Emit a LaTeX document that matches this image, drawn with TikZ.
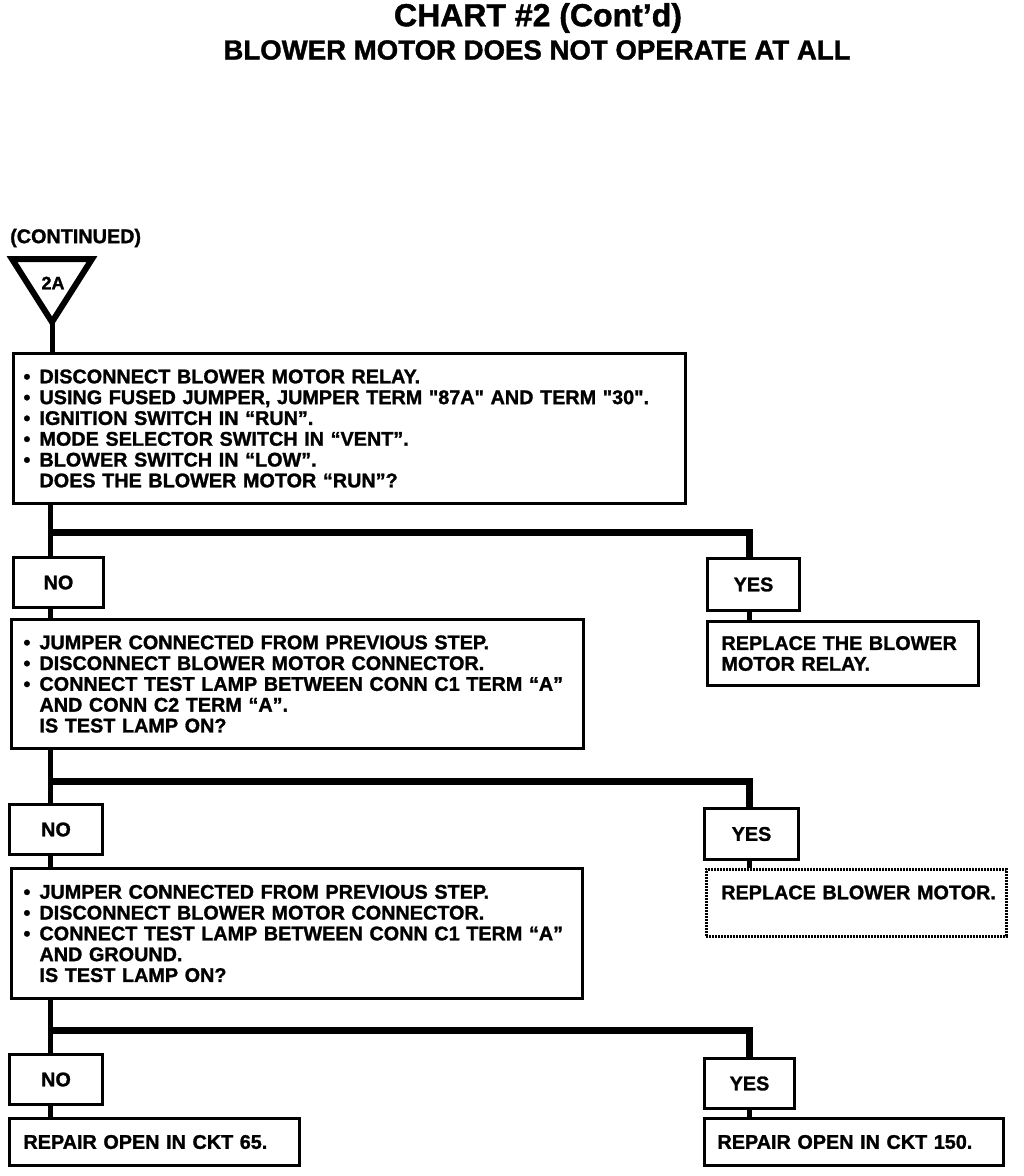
\documentclass[tikz,border=0pt]{standalone}
\usepackage{fontspec}
\setmainfont[BoldFeatures={FakeBold=1.3}]{Liberation Sans}
\newcommand{\blt}[1]{\mbox{\makebox[16pt][l]{\textbullet}#1}}
\newcommand{\nob}[1]{\mbox{\hspace*{16pt}#1}}
\newcommand{\sq}{\textquotedbl}
\begin{document}
\begin{tikzpicture}[x=1pt,y=-1pt,
  txt/.style={font=\bfseries\fontsize{19.8}{20.8}\selectfont},
  bx/.style={draw, line width=3pt, anchor=north west, inner ysep=0pt, align=left, txt},
  lbl/.style={draw, line width=3pt, anchor=north west, inner sep=0pt, align=center, txt, minimum height=50pt},
  rough/.style={draw, line width=2.5pt, dash pattern=on 2pt off 1pt, anchor=north west, inner ysep=0pt, align=left, txt},
  conn/.style={line width=5pt},
  branch/.style={line width=7pt, line join=miter}]
\useasboundingbox (0,0) rectangle (1024,1176);

% titles
\node[font=\bfseries\fontsize{32}{36}\selectfont] (t1) at (538,18) {CHART \#2 (Cont'd)};
\node[font=\bfseries\fontsize{27.6}{30}\selectfont] (t2) at (537,50) {BLOWER MOTOR DOES NOT OPERATE AT ALL};
\node[txt, anchor=west, inner sep=0pt] (cont) at (10,238) {(CONTINUED)};

% triangle entry
\coordinate (tl) at (12,259);
\coordinate (tr) at (92,259);
\coordinate (tA) at (52,322);
\draw[line width=6pt, line join=miter] (tl) -- (tr) -- (tA) -- cycle;
\node[font=\bfseries\fontsize{18}{20}\selectfont, inner sep=0pt] (t2a) at (53,283) {2A};

% trunk x positions
\coordinate (tx) at (50,0);
\coordinate (yx) at (749,0);
\coordinate (br1) at (0,532);
\coordinate (br2) at (0,781);
\coordinate (br3) at (0,1030);

% step 1
\node[bx, minimum width=672pt, minimum height=150pt, text width=652pt, inner xsep=10pt] (b1) at (12,352) {%
\blt{DISCONNECT BLOWER MOTOR RELAY.}\\
\blt{USING FUSED JUMPER, JUMPER TERM \sq87A\sq{} AND TERM \sq30\sq.}\\
\blt{IGNITION SWITCH IN “RUN”.}\\
\blt{MODE SELECTOR SWITCH IN “VENT”.}\\
\blt{BLOWER SWITCH IN “LOW”.}\\
\nob{DOES THE BLOWER MOTOR “RUN”?}};

\node[lbl, minimum width=90pt] (no1) at (12,556) {NO};
\node[lbl, minimum width=92pt, minimum height=52pt] (yes1) at (706,557) {YES};
\node[bx, minimum width=271pt, minimum height=64pt, text width=243pt, inner xsep=14pt] (rr) at (706,620) {%
\mbox{REPLACE THE BLOWER}\\
\mbox{MOTOR RELAY.}};

% step 2
\node[bx, minimum width=572pt, minimum height=129pt, text width=548pt, inner xsep=12pt] (b2) at (10,618) {%
\blt{JUMPER CONNECTED FROM PREVIOUS STEP.}\\
\blt{DISCONNECT BLOWER MOTOR CONNECTOR.}\\
\blt{CONNECT TEST LAMP BETWEEN CONN C1 TERM “A”}\\
\nob{AND CONN C2 TERM “A”.}\\
\nob{IS TEST LAMP ON?}};

\node[lbl, minimum width=93pt] (no2) at (8,803) {NO};
\node[lbl, minimum width=94pt, minimum height=51pt] (yes2) at (703,807) {YES};
\node[rough, minimum width=300pt, minimum height=67pt, text width=270pt, inner xsep=15pt] (rm) at (705,868) {%
\mbox{REPLACE BLOWER MOTOR.}\\ \mbox{}};

% step 3
\node[bx, minimum width=571pt, minimum height=130pt, text width=547pt, inner xsep=12pt] (b3) at (10,867) {%
\blt{JUMPER CONNECTED FROM PREVIOUS STEP.}\\
\blt{DISCONNECT BLOWER MOTOR CONNECTOR.}\\
\blt{CONNECT TEST LAMP BETWEEN CONN C1 TERM “A”}\\
\nob{AND GROUND.}\\
\nob{IS TEST LAMP ON?}};

\node[lbl, minimum width=93pt] (no3) at (8,1053) {NO};
\node[lbl, minimum width=90pt] (yes3) at (703,1057) {YES};
\node[bx, minimum width=290pt, minimum height=47pt, text width=262pt, inner xsep=14pt] (r65) at (8,1117) {\mbox{REPAIR OPEN IN CKT 65.}};
\node[bx, minimum width=299pt, minimum height=47pt, text width=273pt, inner xsep=13pt] (r150) at (703,1117) {\mbox{REPAIR OPEN IN CKT 150.}};

% connectors
\draw[conn] (tA) -- (b1.north -| tA);
\draw[conn] (b1.south -| tx) -- (no1.north -| tx);
\draw[branch] (tx |- br1) -- (yx |- br1) -- (yes1.north -| yx);
\draw[conn] (no1.south -| tx) -- (b2.north -| tx);
\draw[conn] (yes1.south -| yx) -- (rr.north -| yx);

\draw[conn] (b2.south -| tx) -- (no2.north -| tx);
\draw[branch] (tx |- br2) -- (yx |- br2) -- (yes2.north -| yx);
\draw[conn] (no2.south -| tx) -- (b3.north -| tx);
\draw[conn] (yes2.south -| yx) -- (rm.north -| yx);

\draw[conn] (b3.south -| tx) -- (no3.north -| tx);
\draw[branch] (tx |- br3) -- (yx |- br3) -- (yes3.north -| yx);
\draw[conn] (no3.south -| tx) -- (r65.north -| tx);
\draw[conn] (yes3.south -| yx) -- (r150.north -| yx);
\end{tikzpicture}
\end{document}
